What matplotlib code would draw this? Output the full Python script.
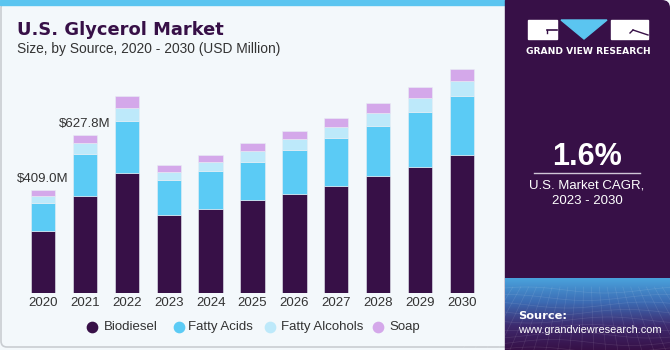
import matplotlib
matplotlib.use("Agg")
import matplotlib.pyplot as plt
from matplotlib.patches import Rectangle, Polygon, FancyBboxPatch
from matplotlib.colors import LinearSegmentedColormap
import numpy as np

years = ["2020", "2021", "2022", "2023", "2024", "2025", "2026", "2027", "2028", "2029", "2030"]
biodiesel = [247, 386, 476, 310, 333, 369, 393, 427, 464, 503, 549]
fatty_acids = [112, 167, 209, 140, 152, 153, 176, 189, 201, 217, 235]
fatty_alcohols = [29, 45, 52, 32, 36, 44, 42, 44, 50, 54, 58]
soap = [21, 29.8, 46, 26.5, 30, 30, 33, 37, 41, 45, 48]
series_names = ["Biodiesel", "Fatty Acids", "Fatty Alcohols", "Soap"]
colors = ["#371047", "#5BCBF5", "#BDE9FA", "#D4A8EA"]
annotations = {0: "$409.0M", 1: "$627.8M"}

W, H = 670, 350
fig = plt.figure(figsize=(W / 100, H / 100), dpi=100)
plt.rcParams['font.family'] = ['Liberation Sans', 'DejaVu Sans']

# background axes in pixel coordinates (y from top)
bg = fig.add_axes([0, 0, 1, 1])
bg.set_xlim(0, W)
bg.set_ylim(H, 0)
bg.axis("off")
bg.add_patch(Rectangle((0, 0), W, H, color="#F3F8FB", zorder=0))
bg.add_patch(FancyBboxPatch((1, 2), 520, 345, boxstyle="round,pad=0,rounding_size=6",
                            fc="none", ec="#C9CDD2", lw=1.2, zorder=1))
bg.add_patch(Rectangle((0, 0), 507, 4.5, color="#5BC5F0", zorder=2))

# right panel
panel_color = "#371047"
bg.add_patch(FancyBboxPatch((505, 0), 165, 350, boxstyle="round,pad=0,rounding_size=8",
                            fc=panel_color, ec="none", zorder=3))
bg.add_patch(Rectangle((505, 0), 20, 350, color=panel_color, zorder=3))
grad = np.linspace(0, 1, 100).reshape(-1, 1)
cmap = LinearSegmentedColormap.from_list("g", [panel_color, "#3E2A6E", "#3C6BB3", "#4AA2DC"])
bg.imshow(grad, extent=(505, 670, 278, 350), aspect="auto", cmap=cmap, zorder=4, origin="upper")
for yy in np.linspace(290, 350, 9):
    xs = np.linspace(505, 670, 40)
    bg.plot(xs, yy + 3 * np.sin((xs - 505) / 25 + yy / 10), color="white", alpha=0.10, lw=0.5, zorder=5)
for xx in np.linspace(505, 670, 22):
    ys = np.linspace(287, 350, 20)
    bg.plot(xx + (ys - 287) * (xx - 587) / 120, ys, color="white", alpha=0.10, lw=0.5, zorder=5)

# logo
bg.add_patch(Rectangle((528, 20), 29, 19, color="white", zorder=6))
bg.plot([547, 557], [29.5, 29.5], color=panel_color, lw=1.2, zorder=7)
bg.plot([547, 547], [29.5, 33], color=panel_color, lw=1.0, zorder=7)
bg.add_patch(Polygon([(561, 20), (607, 20), (584, 39)], closed=True, color="#5BC5F0", zorder=6))
bg.add_patch(Rectangle((611, 20), 37, 19, color="white", zorder=6))
bg.plot([633, 648], [30, 35], color=panel_color, lw=1.0, zorder=7)
bg.plot([630, 633], [33, 30], color=panel_color, lw=1.0, zorder=7)
bg.text(588, 51, "GRAND VIEW RESEARCH", color="white", fontsize=6.6, fontweight="bold",
        ha="center", va="center", family=["DejaVu Sans"], zorder=7)

bg.text(587, 157, "1.6%", color="white", fontsize=22, fontweight="bold", ha="center", va="center", zorder=7)
bg.plot([534, 640], [173, 173], color="#CFC6D6", lw=1, zorder=7)
bg.text(587, 185, "U.S. Market CAGR,", color="white", fontsize=9.5, ha="center", va="center", zorder=7)
bg.text(587, 201, "2023 - 2030", color="white", fontsize=9.5, ha="center", va="center", zorder=7)
bg.text(518, 316, "Source:", color="white", fontsize=8.2, fontweight="bold", ha="left", va="center",
        family=["DejaVu Sans"], zorder=7)
bg.text(518, 330, "www.grandviewresearch.com", color="white", fontsize=7.9, ha="left", va="center", zorder=7)

# titles
bg.text(17, 35, "U.S. Glycerol Market", color="#371047", fontsize=12.9, fontweight="bold",
        ha="left", va="baseline", family=["DejaVu Sans"], zorder=7)
bg.text(17, 53, "Size, by Source, 2020 - 2030 (USD Million)", color="#333333", fontsize=9.9,
        ha="left", va="baseline", zorder=7)

# chart axes
base_px = 293.3
top_px = 60
units_per_px = 3.97
ax = fig.add_axes([20 / W, (H - base_px) / H, 465 / W, (base_px - top_px) / H])
ax.set_facecolor("none")
x = np.arange(len(years))
bottom = np.zeros(len(years))
for vals, c, name in zip([biodiesel, fatty_acids, fatty_alcohols, soap], colors, series_names):
    ax.bar(x, vals, bottom=bottom, width=0.58, color=c, edgecolor="#E8EEF4", linewidth=0.4, label=name, zorder=3)
    bottom = bottom + np.array(vals)
ax.set_xlim(-0.55, 10.55)
ax.set_ylim(0, (base_px - top_px) * units_per_px)
for i, txt in annotations.items():
    ax.text(x[i], bottom[i] + 20, txt, ha="center", va="bottom", fontsize=9.5, color="#333333")
ax.set_xticks(x)
ax.set_xticklabels(years, fontsize=9.5, color="#333333")
ax.tick_params(axis="x", length=0, pad=3)
ax.set_yticks([])
for s in ax.spines.values():
    s.set_visible(False)

# legend
leg_y = 327
for mx, tx, name, c in zip([92, 179, 270, 378], [104, 188, 281, 389], series_names, colors):
    bg.scatter([mx], [leg_y], s=55, color=c, zorder=7)
    bg.text(tx, leg_y, name, fontsize=9.5, color="#333333", ha="left", va="center", zorder=7)

fig.savefig("out.png", dpi=100)
